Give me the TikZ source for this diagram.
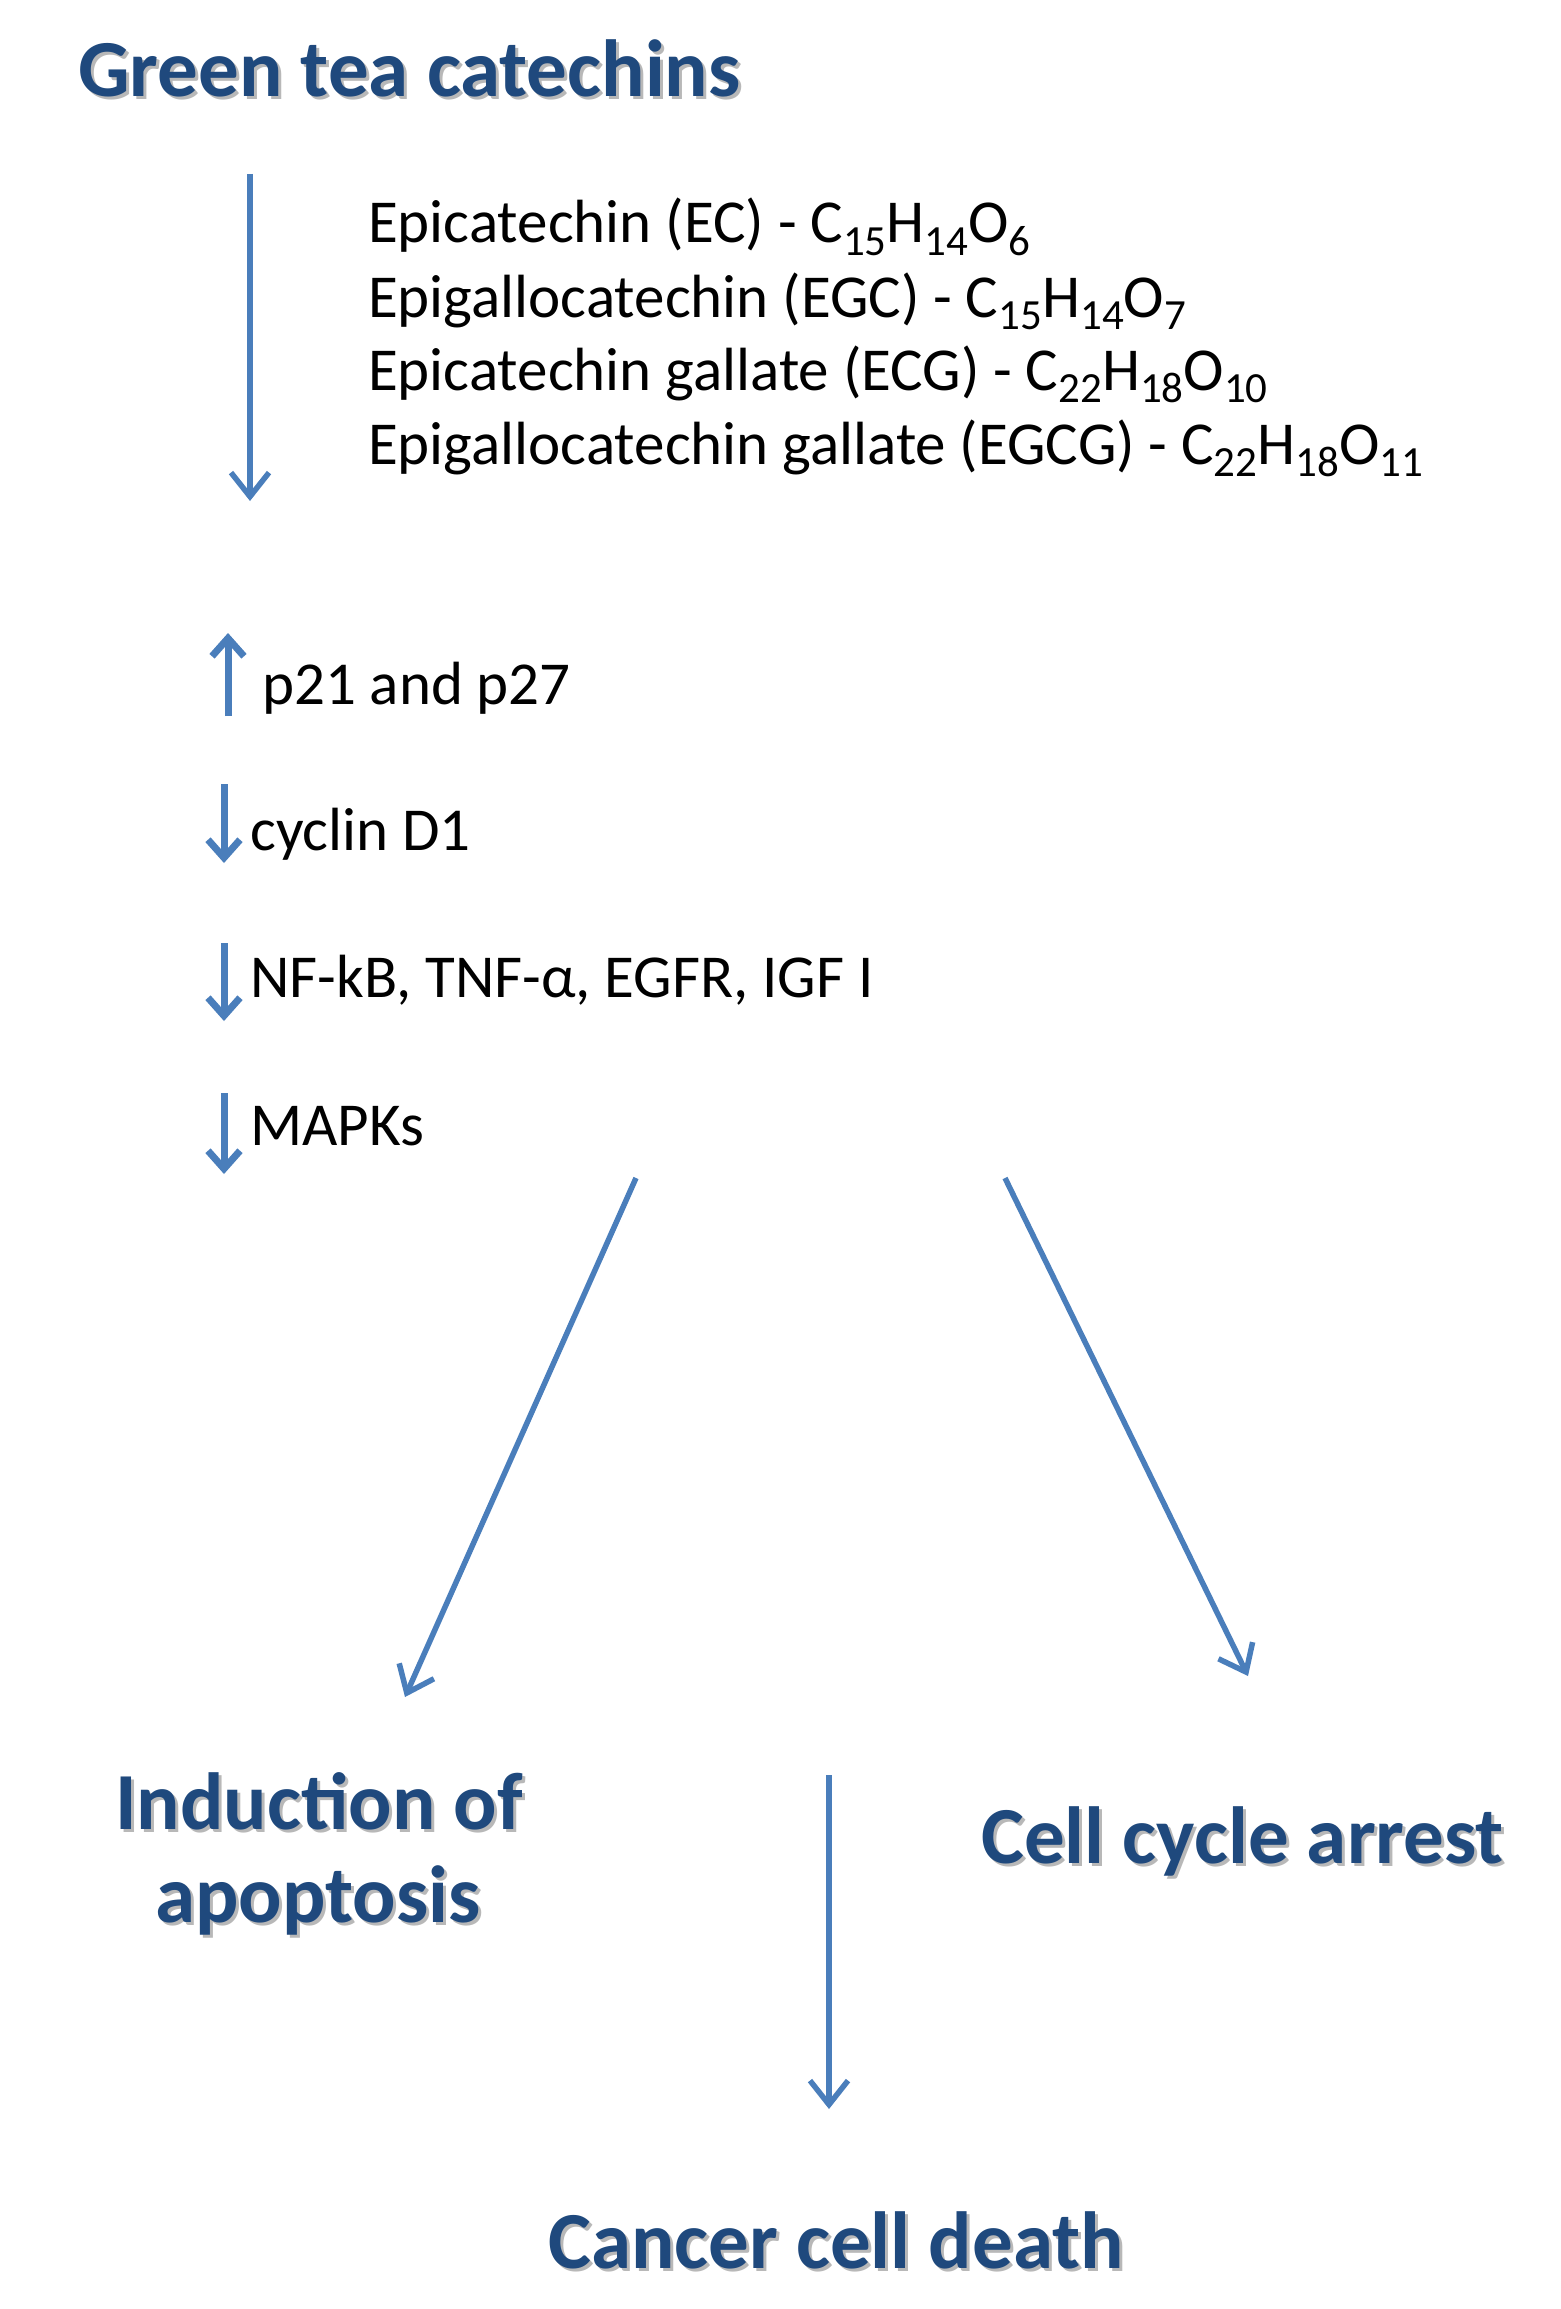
\documentclass[tikz,border=0pt]{standalone}
\usepackage{fontspec}
\setmainfont{Carlito}
\usetikzlibrary{arrows.meta}
\definecolor{headblue}{HTML}{1F497D}
\definecolor{arrowblue}{HTML}{4A7EBB}
\definecolor{shadegray}{HTML}{B8B8B8}
\newcommand\mysub[1]{\raisebox{-0.2em}{\fontsize{43}{43}\selectfont #1}}
\begin{document}
\begin{tikzpicture}[x=1pt,y=-1pt,
  heading/.style={font=\fontsize{81}{93}\selectfont\bfseries, text=headblue, inner sep=0pt, anchor=base west},
  headshadow/.style={heading, text=shadegray},
  listtext/.style={font=\fontsize{61}{73}\selectfont, inner sep=0pt, anchor=base west},
  marktext/.style={font=\fontsize{61}{73}\selectfont, inner sep=0pt, anchor=base west},
  longarrow/.style={draw=arrowblue, line width=5.5pt, -{Straight Barb[length=24pt,width=38pt]}},
  shortarrow/.style={draw=arrowblue, line width=7pt, -{Straight Barb[length=18pt,width=32pt]}}
]
\useasboundingbox[fill=white] (0,0) rectangle (1560,2309);

% title
\node[headshadow] (titleS) at (81,100) {Green tea catechins};
\node[heading] (title) at (78,97) {Green tea catechins};

% catechins list
\node[listtext] (ec) at (368,243) {Epicatechin (EC) - C\mysub{15}H\mysub{14}O\mysub{6}};
\node[listtext] (egc) at (368,317) {Epigallocatechin (EGC) - C\mysub{15}H\mysub{14}O\mysub{7}};
\node[listtext] (ecg) at (368,390) {Epicatechin gallate (ECG) - C\mysub{22}H\mysub{18}O\mysub{10}};
\node[listtext] (egcg) at (368,464) {Epigallocatechin gallate (EGCG) - C\mysub{22}H\mysub{18}O\mysub{11}};

\coordinate (m1s) at (250,174);
\coordinate (m1e) at (250,501);
\draw[longarrow] (m1s) -- (m1e);

% markers
\node[marktext] (p21) at (262,704) {p21 and p27};
\node[marktext] (cyc) at (250,850) {cyclin D1};
\node[marktext] (nfkb) at (250,997) {NF-kB, TNF-α, EGFR, IGF I};
\node[marktext] (mapk) at (250,1145) {MAPKs};

\coordinate (u1s) at (228,716);
\coordinate (u1e) at (228,633);
\coordinate (d1s) at (224,784);
\coordinate (d1e) at (224,863);
\coordinate (d2s) at (224,943);
\coordinate (d2e) at (224,1021);
\coordinate (d3s) at (224,1093);
\coordinate (d3e) at (224,1174);
\draw[shortarrow] (u1s) -- (u1e);
\draw[shortarrow] (d1s) -- (d1e);
\draw[shortarrow] (d2s) -- (d2e);
\draw[shortarrow] (d3s) -- (d3e);

% outcomes
\node[headshadow] (apop1S) at (118,1832) {Induction of};
\node[heading] (apop1) at (115,1829) {Induction of};
\node[headshadow] (apop2S) at (158,1925) {apoptosis};
\node[heading] (apop2) at (155,1922) {apoptosis};
\node[headshadow] (arrestS) at (984,1866) {Cell cycle arrest};
\node[heading] (arrest) at (981,1863) {Cell cycle arrest};
\node[headshadow] (deathS) at (551,2271) {Cancer cell death};
\node[heading] (death) at (548,2268) {Cancer cell death};

\coordinate (ls) at (636,1178);
\coordinate (le) at (405,1697);
\coordinate (rs) at (1005,1178);
\coordinate (re) at (1248,1676);
\coordinate (vs) at (829,1775);
\coordinate (ve) at (829,2109);
\draw[longarrow] (ls) -- (le);
\draw[longarrow] (rs) -- (re);
\draw[longarrow] (vs) -- (ve);
\end{tikzpicture}
\end{document}
